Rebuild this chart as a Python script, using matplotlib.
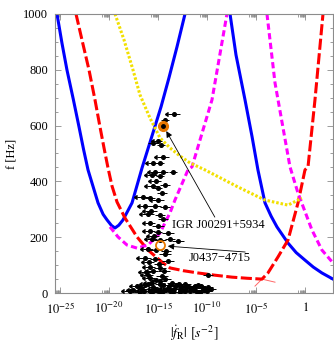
import numpy as np
import matplotlib
matplotlib.use("Agg")
import matplotlib.pyplot as plt
from matplotlib.ticker import FixedLocator, FixedFormatter, MultipleLocator

plt.rcParams["font.family"] = ["Liberation Serif", "DejaVu Serif"]
plt.rcParams["mathtext.fontset"] = "stix"
plt.rcParams["lines.scale_dashes"] = False

# ---- curves: log10 |fdot_R| and frequency (Hz) ----
blue1_logx = [-25.31, -24.80, -24.29, -23.65, -23.06, -22.60, -22.14, -21.12,
              -20.60, -20.20, -19.75, -19.39, -19.00, -18.57, -17.65, -16.63,
              -15.61, -14.69, -13.88, -13.06, -12.24]
blue1_f = [1000, 895, 799, 695, 595, 515, 441, 323,
           282, 262, 242, 233, 243, 262, 323, 448,
           563, 667, 771, 882, 1000]

blue2_logx = [-7.65, -7.04, -6.12, -5.40, -4.80, -4.08, -3.45, -2.86,
              -1.73, -0.90, 0.0, 0.85, 1.73, 2.86]
blue2_f = [1000, 853, 692, 560, 441, 323, 275, 237,
           179, 145, 118, 93, 72, 50]

red_logx = [-23.37, -22.76, -22.04, -21.43, -20.92, -20.51, -20.10, -19.69,
            -19.18, -18.37, -17.14, -16.02, -14.49, -13.78, -12.40, -10.92,
            -9.20, -7.45, -5.90, -4.39, -3.78, -2.76, -1.73, -0.71,
            0.0, 0.31, 1.02, 1.84]
red_f = [1000, 907, 799, 692, 595, 520, 448, 383,
         326, 269, 201, 154, 108, 90, 80, 72,
         64, 57, 53, 50, 72, 129, 190, 323,
         441, 452, 692, 1000]
# faint continuations of the two red branches past the crossing
red_ext1_logx = [-4.39, -3.06]
red_ext1_f = [50, 39]
red_ext2_logx = [-5.10, -4.39]
red_ext2_f = [25, 50]

mag1_logx = [-19.90, -19.08, -18.16, -17.14, -16.02, -14.80, -13.78,
             -13.27, -11.94, -11.53, -9.49, -7.96]
mag1_f = [237, 201, 172, 161, 172, 215, 287, 333, 441, 452, 692, 1000]

mag2_logx = [-3.88, -3.06, -1.53, -0.71, 0.71, 1.73, 2.86]
mag2_f = [1000, 753, 452, 358, 226, 154, 108]

yel_logx = [-19.39, -18.47, -17.55, -16.84, -15.82, -14.80, -13.78, -12.76,
            -11.73, -10.20, -6.84, -4.08, -1.73, -0.31]
yel_f = [1000, 907, 799, 710, 627, 556, 520, 491,
         466, 441, 380, 333, 315, 340]

# ---- pulsars: log10 |fdot|, frequency, half-width of bar (decades), upper limit ----
psr_logfd = [-13.37, -14.29, -15.51, -15.00, -14.69, -14.49, -15.51, -14.80,
             -15.31, -14.49, -13.47, -15.61, -14.80, -15.51, -15.00, -14.29,
             -16.53, -15.82, -15.00, -16.33, -15.31, -14.29, -16.02, -14.80,
             -15.82, -15.00, -15.82, -15.00, -13.98, -15.61, -14.80, -13.78,
             -12.96, -16.02, -15.20, -14.18, -16.33, -15.31, -13.98, -15.82,
             -14.80, -16.22, -14.59, -15.82, -9.90, -14.80,
             -15.20, -14.60, -15.70, -14.50, -15.40, -14.30, -15.90, -14.90,
             -15.50, -14.40, -16.00, -15.20, -14.30,
             -17.14, -16.63, -16.02, -15.51, -15.00, -14.49, -13.98, -13.57,
             -13.16, -12.76, -12.24, -11.84, -11.33, -10.92, -10.41, -9.90,
             -17.86, -16.84, -15.82, -14.80, -13.78, -12.76, -11.73, -10.71,
             -16.30, -15.70, -14.80, -13.80, -12.90, -12.00, -11.20, -10.60,
             -16.80, -15.30, -14.20, -13.40, -12.50, -11.50, -10.20, -17.50,
             -16.40, -15.60, -14.50, -13.50, -12.20, -11.00, -10.00, -9.60]
psr_freq = [642, 620, 538, 545, 530, 487, 466, 466,
            434, 434, 434, 423, 419, 383, 376, 387,
            344, 340, 333, 312, 312, 308, 283, 280,
            251, 240, 222, 219, 215, 194, 190, 194,
            186, 158, 154, 151, 125, 122, 115, 93,
            90, 75, 61, 54, 65, 43,
            400, 360, 295, 265, 205, 140, 110, 105,
            80, 78, 65, 48, 50,
            25, 14, 32, 22, 11, 29, 18, 36,
            25, 14, 32, 22, 11, 29, 18, 22,
            7, 4, 7, 4, 7, 4, 7, 4,
            30, 35, 33, 30, 31, 26, 24, 27,
            20, 16, 12, 16, 20, 17, 12, 12,
            9, 3, 8, 3, 9, 5, 8, 14]
psr_err = [0.6, 0.4, 0.5, 0.4, 0.4, 0.6, 0.5, 0.4,
           0.5, 0.5, 0.4, 0.5, 0.4, 0.6, 0.4, 0.5,
           0.6, 0.5, 0.6, 0.5, 0.6, 0.5, 0.6, 0.5,
           0.5, 0.6, 0.5, 0.4, 0.6, 0.5, 0.6, 0.5,
           0.6, 0.5, 0.6, 0.5, 0.6, 0.5, 0.6, 0.5,
           0.6, 0.5, 0.6, 0.5, 0.5, 0.6,
           0.5, 0.5, 0.6, 0.5, 0.5, 0.6, 0.5, 0.5,
           0.5, 0.6, 0.5, 0.5, 0.6,
           0.5, 0.5, 0.6, 0.5, 0.6, 0.5, 0.6, 0.5,
           0.6, 0.5, 0.6, 0.5, 0.6, 0.5, 0.6, 0.5,
           0.6, 0.6, 0.6, 0.6, 0.6, 0.6, 0.6, 0.6,
           0.5, 0.5, 0.5, 0.5, 0.5, 0.5, 0.5, 0.5,
           0.5, 0.5, 0.5, 0.5, 0.5, 0.5, 0.5, 0.5,
           0.5, 0.5, 0.5, 0.5, 0.5, 0.5, 0.5, 0.5]
psr_ul = [1, 0, 0, 1, 0, 1, 1, 0,
          1, 0, 0, 1, 0, 1, 0, 0,
          1, 0, 1, 1, 0, 0, 1, 0,
          1, 0, 1, 0, 0, 1, 0, 0,
          0, 1, 0, 0, 1, 0, 0, 1,
          0, 1, 0, 1, 0, 1,
          1, 0, 1, 0, 1, 0, 1, 0,
          1, 0, 1, 0, 0,
          1, 0, 1, 0, 1, 0, 1, 0,
          1, 0, 1, 0, 1, 0, 1, 0,
          1, 0, 1, 0, 1, 0, 1, 0,
          0, 1, 0, 1, 0, 1, 0, 1,
          0, 1, 0, 1, 0, 1, 0, 1,
          1, 0, 1, 0, 1, 0, 1, 0]

igr_logfd, igr_f = -14.49, 599
j0437_logfd, j0437_f = -14.80, 172

major_exp = [-25, -20, -15, -10, -5, 0]
major_labels = [r"$10^{-25}$", r"$10^{-20}$", r"$10^{-15}$",
                r"$10^{-10}$", r"$10^{-5}$", r"$1$"]


def main():
    fig = plt.figure(figsize=(3.34, 3.46), dpi=100)
    ax = fig.add_axes([0.165, 0.153, 0.832, 0.807])

    ax.plot(10.0 ** np.array(blue1_logx), blue1_f, color="#0000ff", lw=2.2)
    ax.plot(10.0 ** np.array(blue2_logx), blue2_f, color="#0000ff", lw=2.2)

    ax.plot(10.0 ** np.array(red_logx), red_f, color="#ff0000", lw=2.2,
            dashes=(8, 2.5))
    ax.plot(10.0 ** np.array(red_ext1_logx), red_ext1_f, color="#ff0000",
            lw=0.7, alpha=0.6)
    ax.plot(10.0 ** np.array(red_ext2_logx), red_ext2_f, color="#ff0000",
            lw=0.7, alpha=0.6)

    ax.plot(10.0 ** np.array(mag1_logx), mag1_f, color="#ff00ff", lw=2.2,
            dashes=(4.5, 2.5))
    ax.plot(10.0 ** np.array(mag2_logx), mag2_f, color="#ff00ff", lw=2.2,
            dashes=(4.5, 2.5))

    ax.plot(10.0 ** np.array(yel_logx), yel_f, color="#f2e000", lw=2.2,
            dashes=(1.8, 1.4))

    # pulsar points with horizontal bars
    lx = np.array(psr_logfd)
    fr = np.array(psr_freq)
    er = np.array(psr_err)
    ul = np.array(psr_ul, dtype=bool)
    x = 10.0 ** lx
    xerr = np.vstack([x - 10.0 ** (lx - er), 10.0 ** (lx + er) - x])
    ax.errorbar(x[~ul], fr[~ul], xerr=xerr[:, ~ul], fmt="o", ms=2.6,
                color="k", lw=0.7, capsize=0, zorder=4)
    ax.errorbar(x[ul], fr[ul], xerr=xerr[:, ul], xuplims=True, fmt="o",
                ms=2.6, color="k", lw=0.7, capsize=1.6, zorder=4)
    ax.errorbar(x[ul], fr[ul], xerr=xerr[:, ul], fmt="none", color="k",
                lw=0.7, capsize=0, zorder=4)

    ax.plot(10.0 ** igr_logfd, igr_f, "o", ms=7, color="#e87800", zorder=5)
    ax.plot(10.0 ** igr_logfd, igr_f, "o", ms=2.5, color="k", zorder=6)
    ax.plot(10.0 ** j0437_logfd, j0437_f, "o", ms=6.5, mfc="none",
            mec="#e87800", mew=1.3, zorder=5)

    arrow = dict(arrowstyle="-|>", color="k", lw=0.6, mutation_scale=9,
                 shrinkA=0, shrinkB=0)
    ax.annotate("", xy=(10.0 ** -14.15, 580), xytext=(10.0 ** -9.2, 272),
                arrowprops=arrow, zorder=7)
    ax.text(10.0 ** -13.6, 244, "IGR J00291+5934", fontsize=9,
            va="center", ha="left")
    ax.annotate("", xy=(10.0 ** -14.0, 168), xytext=(10.0 ** -6.1, 147),
                arrowprops=arrow, zorder=7)
    ax.text(10.0 ** -11.9, 125, "J0437\u22124715", fontsize=9,
            va="center", ha="left")

    ax.set_xscale("log")
    ax.set_xlim(10.0 ** -25.5, 10.0 ** 2.86)
    ax.set_ylim(0, 1000)

    majors = [10.0 ** e for e in major_exp]
    minors = [m * 10.0 ** (e - 1) for e in major_exp for m in range(2, 10)]
    ax.xaxis.set_major_locator(FixedLocator(majors))
    ax.xaxis.set_major_formatter(FixedFormatter(major_labels))
    ax.xaxis.set_minor_locator(FixedLocator(minors))
    ax.xaxis.set_minor_formatter(FixedFormatter([]))
    ax.yaxis.set_major_locator(MultipleLocator(200))
    ax.yaxis.set_minor_locator(MultipleLocator(50))

    for s in ax.spines.values():
        s.set_color("#8c8c8c")
        s.set_linewidth(0.8)
    ax.tick_params(which="both", direction="in", top=True, right=True,
                   color="#8c8c8c", labelsize=9, width=0.6)
    ax.tick_params(axis="x", which="major", length=4, pad=6)
    ax.tick_params(axis="y", which="major", length=4, pad=5)
    ax.tick_params(which="minor", length=2)

    ax.set_ylabel("f [Hz]", fontsize=9, labelpad=4)
    ax.set_xlabel(r"$|\dot{f}_{\rm R}|\ [s^{-2}]$", fontsize=10, labelpad=5)

    fig.savefig("out.png", dpi=100)


if __name__ == "__main__":
    main()
